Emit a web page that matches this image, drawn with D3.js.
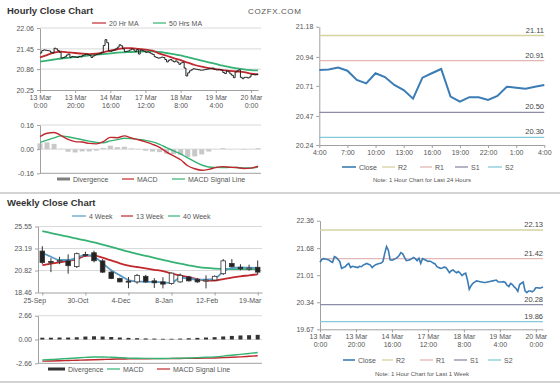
<!DOCTYPE html>
<html><head><meta charset="utf-8">
<script src="https://cdn.jsdelivr.net/npm/d3@7"></script>
<style>
body{margin:0;background:#fff;}
svg{display:block;font-family:"Liberation Sans",Arial,sans-serif;}
</style></head><body>
<svg id="c" width="560" height="386"></svg>
<script>
// ---------- DATA ----------
const hourClose = [
 21.33,21.40,21.42,21.41,21.40,21.39,21.35,21.33,21.47,21.45,21.40,21.35,
 21.18,21.20,21.22,21.27,21.30,21.20,21.23,21.22,21.21,21.20,21.23,21.22,
 21.26,21.28,21.30,21.28,21.26,21.20,21.24,21.27,21.29,21.30,21.31,21.35,
 21.55,21.72,21.63,21.39,21.38,21.40,21.42,21.45,21.50,21.57,21.54,21.45,
 21.37,21.38,21.39,21.42,21.45,21.42,21.37,21.43,21.30,21.42,21.40,21.38,
 21.35,21.36,21.34,21.31,21.29,21.22,21.20,21.18,21.19,21.21,21.20,21.14,
 21.07,21.12,21.14,21.10,21.07,21.10,21.06,21.00,21.04,21.06,20.89,20.66,
 20.75,20.81,20.84,20.87,20.86,20.85,20.84,20.83,20.83,20.84,20.85,20.86,20.87,20.88,20.89,20.85,
 20.84,20.84,20.85,20.83,20.76,20.73,20.81,20.78,20.72,20.68,20.61,20.78,20.81,20.84,20.62,20.58,
 20.62,20.62,20.60,20.63,20.70,20.70,20.69,20.70,20.72];
const hourXLabels = [["13 Mar","0:00"],["13 Mar","20:00"],["14 Mar","16:00"],["17 Mar","12:00"],["18 Mar","8:00"],["19 Mar","4:00"],["20 Mar","0:00"]];
const hourYTicks = [20.25,20.86,21.45,22.06];
// sampled every 4 hours (hour index 0,4,...,124)
const ma20 = [21.20,21.27,21.34,21.37,21.35,21.33,21.31,21.30,21.31,21.35,21.40,21.44,21.47,21.47,21.45,21.43,
              21.40,21.31,21.25,21.18,21.12,21.05,20.98,20.93,20.89,20.86,20.83,20.81,20.79,20.77,20.73,20.71];
const ma50 = [21.08,21.11,21.14,21.17,21.19,21.21,21.23,21.26,21.28,21.30,21.32,21.34,21.35,21.36,21.37,21.38,
              21.38,21.36,21.33,21.30,21.26,21.21,21.16,21.11,21.06,21.01,20.96,20.92,20.88,20.85,20.83,20.82];
const hMacd = [0.083,0.105,0.110,0.090,0.065,0.050,0.047,0.038,0.035,0.050,0.078,0.076,0.088,0.074,0.062,0.048,
               0.032,0.012,-0.020,-0.045,-0.070,-0.110,-0.130,-0.140,-0.134,-0.122,-0.116,-0.120,-0.122,-0.128,-0.126,-0.112];
const hSignal = [0.045,0.060,0.075,0.088,0.082,0.072,0.062,0.053,0.045,0.042,0.055,0.063,0.072,0.070,0.064,0.058,
                 0.048,0.032,0.010,-0.012,-0.032,-0.058,-0.082,-0.105,-0.118,-0.121,-0.122,-0.121,-0.122,-0.125,-0.125,-0.118];
const hDiv = [0.038,0.045,0.035,0.002,-0.017,-0.022,-0.015,-0.015,-0.010,0.008,0.023,0.013,0.016,0.004,-0.002,-0.010,
              -0.016,-0.020,-0.030,-0.033,-0.038,-0.052,-0.048,-0.035,-0.016,-0.001,0.006,0.001,0.000,-0.003,-0.001,0.006];
const hMacdTicks = [-0.16,0,0.16];
const hMacdLabels = ["-0.16","0.00","0.16"];

// last 24 hours
const dayClose = [20.836,20.84,20.855,20.83,20.757,20.73,20.81,20.78,20.717,20.677,20.608,20.775,20.81,
                  20.844,20.624,20.584,20.62,20.62,20.598,20.63,20.703,20.695,20.687,20.703,20.717];
const dayXLabels = ["4:00","7:00","10:00","13:00","16:00","19:00","22:00","1:00","4:00"];
const dayYTicks = [20.24,20.47,20.71,20.94,21.18];
const dayLevels = [21.11,20.91,20.50,20.30];   // R2,R1,S1,S2
const levelNames = ["R2","R1","S1","S2"];

// weekly
const weekLabels = ["25-Sep","30-Oct","4-Dec","8-Jan","12-Feb","19-Mar"];
const weekOpen  = [22.91,21.80,21.78,21.86,21.24,22.55,22.73,21.86,20.65,19.96,19.68,19.60,20.20,19.71,19.60,19.44,19.60,20.13,19.85,19.75,19.80,20.48,21.58,21.17,21.02,21.17];
const weekHigh  = [23.43,22.15,22.30,22.56,22.75,22.85,22.95,22.05,20.75,20.05,20.13,20.45,20.35,20.00,20.10,20.60,20.50,20.25,20.00,20.30,20.30,22.05,22.05,21.50,21.45,21.90];
const weekLow   = [21.52,20.65,21.50,20.48,21.10,22.30,21.70,20.55,19.90,19.55,18.92,19.40,19.50,18.95,18.90,19.30,19.50,19.65,19.50,18.90,19.70,20.35,21.15,20.85,20.80,20.40];
const weekClose = [21.69,21.68,21.90,21.34,22.63,22.45,21.87,20.65,19.96,19.60,19.60,20.30,19.60,19.50,19.36,20.54,20.30,19.71,19.60,19.80,20.20,21.86,21.24,21.00,21.08,20.65];
const wk4  = [22.73,22.30,21.95,21.95,22.20,22.50,22.30,21.60,20.85,20.30,19.80,19.65,19.60,19.60,19.55,19.50,20.05,19.95,19.85,19.85,19.95,20.70,21.10,21.15,21.12,21.10];
const wk13 = [21.40,21.55,21.69,21.85,22.04,22.39,22.45,22.20,21.90,21.60,21.35,21.20,21.05,20.90,20.75,20.50,20.30,20.10,19.90,19.75,19.75,19.90,20.05,20.20,20.30,20.42];
const wk40 = [25.05,24.85,24.65,24.45,24.25,24.05,23.85,23.60,23.35,23.10,22.85,22.62,22.40,22.18,21.97,21.75,21.55,21.38,21.22,21.10,21.03,21.00,20.98,20.98,20.98,20.97];
const weekYTicks = [18.46,20.82,23.19,25.55];
const wMacd   = [-2.28,-2.24,-2.18,-2.12,-2.06,-2.00,-1.95,-1.95,-1.98,-2.03,-2.08,-2.10,-2.11,-2.12,-2.12,-2.11,-2.09,-2.06,-2.03,-1.99,-1.94,-1.86,-1.76,-1.66,-1.56,-1.46];
const wSignal = [-2.42,-2.40,-2.38,-2.35,-2.32,-2.29,-2.26,-2.23,-2.20,-2.18,-2.17,-2.16,-2.15,-2.14,-2.14,-2.13,-2.12,-2.11,-2.10,-2.08,-2.06,-2.03,-1.99,-1.94,-1.88,-1.82];
const wDiv    = [0.20,0.20,0.22,0.22,0.25,0.33,0.36,0.33,0.28,0.22,0.18,0.15,0.12,0.10,0.08,0.08,0.10,0.14,0.18,0.22,0.26,0.34,0.40,0.45,0.48,0.52];
const wMacdTicks = [-2.66,0,2.66];
const wMacdLabels = ["-2.66","0.00","2.66"];

// last week hourly (same hourly closes)
const weekHourYTicks = [19.67,20.34,21.01,21.68,22.36];
const weekLevels = [22.13,21.42,20.28,19.86];

// ---------- STYLE ----------
const C = {red:"#c0282e", green:"#35b274", blue:"#5b9bc6", close:"#3b7cb4", grid:"#d9d9d9", axis:"#a0a0a0", text:"#555",
  lv:["#d6d3a0","#e2b7b5","#8c8ca6","#84cbd9"]};
const FONT = '"Liberation Sans",Arial,sans-serif';
const svg = d3.select("#c");

function styleAxis(g){
  g.attr("font-family",FONT).attr("font-size",7);
  g.select(".domain").attr("stroke",C.axis);
  g.selectAll(".tick line").attr("stroke",C.axis);
  g.selectAll(".tick text").attr("fill",C.text);
}
function yAxis(scale,x,vals,labels){
  const g = svg.append("g").attr("transform",`translate(${x},0)`)
    .call(d3.axisLeft(scale).tickValues(vals).tickSize(3).tickPadding(3).tickSizeOuter(0)
      .tickFormat((d,i)=>labels?labels[i]:d3.format(".2f")(d)));
  styleAxis(g); return g;
}
function xAxis(scale,y,vals,labels,two,dx){
  const g = svg.append("g").attr("transform",`translate(0,${y})`)
    .call(d3.axisBottom(scale).tickValues(vals).tickSize(3).tickSizeOuter(0).tickFormat(""));
  styleAxis(g);
  g.selectAll(".tick").each(function(d,i){
    const t = d3.select(this).append("text").attr("fill",C.text).attr("text-anchor","middle").attr("y",10);
    if(two){ t.append("tspan").attr("x",0).text(labels[i][0]); t.append("tspan").attr("x",0).attr("dy",8).text(labels[i][1]); }
    else t.attr("x",dx||0).text(labels[i]);
  });
  return g;
}
function grid(scale,vals,x1,x2){
  svg.append("g").selectAll("line").data(vals).join("line")
    .attr("x1",x1).attr("x2",x2).attr("y1",d=>scale(d)).attr("y2",d=>scale(d))
    .attr("stroke",C.grid).attr("stroke-width",1);
}
function text(x,y,s,opt={}){
  return svg.append("text").attr("x",x).attr("y",y).text(s).attr("font-family",FONT)
    .attr("font-size",opt.size||7).attr("fill",opt.fill||C.text).attr("font-weight",opt.weight||"normal")
    .attr("text-anchor",opt.anchor||"start").attr("letter-spacing",opt.ls||0);
}
function legLine(x1,x2,y,color,label,w){
  svg.append("line").attr("x1",x1).attr("x2",x2).attr("y1",y).attr("y2",y).attr("stroke",color).attr("stroke-width",w||1.2);
  text(x2+3,y+2.5,label);
}
function legBox(x1,x2,y,color,label){
  svg.append("rect").attr("x",x1).attr("y",y-1.5).attr("width",x2-x1).attr("height",3).attr("fill",color);
  text(x2+3,y+2.5,label);
}

// ---------- FRAME ----------
text(7,14,"Hourly Close Chart",{size:9.5,weight:"bold",fill:"#333"});
text(248,14,"COZFX.COM",{size:8,fill:"#555",ls:0.6});
text(7,206,"Weekly Close Chart",{size:9.5,weight:"bold",fill:"#333"});
svg.append("line").attr("x1",0).attr("x2",560).attr("y1",193).attr("y2",193).attr("stroke","#c4c4c4").attr("stroke-width",1.5);
svg.append("line").attr("x1",0).attr("x2",560).attr("y1",382).attr("y2",382).attr("stroke","#c4c4c4").attr("stroke-width",1.5);

// ---------- HOURLY (left) ----------
const hIdx = d3.range(hourClose.length);
const hSample = d3.range(0,125,4);
const hx = d3.scaleLinear().domain([0,124]).range([40,258]);
const hy = d3.scaleLinear().domain([20.25,22.06]).range([90,28]);
grid(hy,hourYTicks.slice(1),40,261);
yAxis(hy,40,hourYTicks);
xAxis(hx,90,d3.range(0,121,20),hourXLabels,true);
svg.append("path").datum(ma50).attr("fill","none").attr("stroke",C.green).attr("stroke-width",1.8)
  .attr("d",d3.line().x((d,i)=>hx(hSample[i])).y(d=>hy(d)).curve(d3.curveMonotoneX));
svg.append("path").datum(ma20).attr("fill","none").attr("stroke",C.red).attr("stroke-width",1.8)
  .attr("d",d3.line().x((d,i)=>hx(hSample[i])).y(d=>hy(d)).curve(d3.curveMonotoneX));
svg.append("path").datum(hourClose).attr("fill","none").attr("stroke","#222").attr("stroke-width",1)
  .attr("d",d3.line().x((d,i)=>hx(hIdx[i])).y(d=>hy(d)).curve(d3.curveStepAfter));
legLine(92,106,23,C.red,"20 Hr MA");
legLine(153,166,23,C.green,"50 Hrs MA");

// hourly MACD
const my = d3.scaleLinear().domain([-0.16,0.16]).range([173.3,125]);
grid(my,[0,0.16],40,261);
svg.append("g").selectAll("rect").data(hDiv).join("rect")
  .attr("x",(d,i)=>hx(hSample[i])-2.5).attr("width",5)
  .attr("y",d=>Math.min(my(0),my(d))).attr("height",d=>Math.abs(my(d)-my(0)))
  .attr("fill","#c8c8c8");
yAxis(my,40,hMacdTicks,hMacdLabels);
svg.append("line").attr("x1",40).attr("x2",261).attr("y1",173.3).attr("y2",173.3).attr("stroke",C.axis);
svg.append("path").datum(hSignal).attr("fill","none").attr("stroke",C.green).attr("stroke-width",1.4)
  .attr("d",d3.line().x((d,i)=>hx(hSample[i])).y(d=>my(d)).curve(d3.curveMonotoneX));
svg.append("path").datum(hMacd).attr("fill","none").attr("stroke",C.red).attr("stroke-width",1.4)
  .attr("d",d3.line().x((d,i)=>hx(hSample[i])).y(d=>my(d)).curve(d3.curveMonotoneX));
legBox(57,70,179,"#808080","Divergence");
legLine(122,134,179,C.red,"MACD");
legLine(172,185,179,C.green,"MACD Signal Line");

// ---------- LAST 24 HOURS (top right) ----------
const rx = d3.scaleLinear().domain([0,24]).range([319.3,544.3]);
const ry = d3.scaleLinear().domain([20.24,21.18]).range([145,26.7]);
yAxis(ry,319.3,dayYTicks);
xAxis(rx,145,d3.range(0,25,3),dayXLabels,false);
dayLevels.forEach((v,i)=>{
  svg.append("line").attr("x1",319.3).attr("x2",544.3).attr("y1",ry(v)).attr("y2",ry(v)).attr("stroke",C.lv[i]).attr("stroke-width",1.3);
  text(544,ry(v)-3,d3.format(".2f")(v),{anchor:"end",fill:"#444",size:7.5});
});
svg.append("path").datum(dayClose).attr("fill","none").attr("stroke",C.close).attr("stroke-width",2)
  .attr("d",d3.line().x((d,i)=>rx(i)).y(d=>ry(d)));
legLine(342,356,167,C.close,"Close",1.6);
[[382,395],[420,432],[455,468],[488,502]].forEach((p,i)=>legLine(p[0],p[1],167,C.lv[i],levelNames[i],1.3));
text(422,182,"Note: 1 Hour Chart for Last 24 Hours",{anchor:"middle",size:6});

// ---------- WEEKLY (left) ----------
const wIdx = d3.range(weekClose.length);
const wx = d3.scalePoint().domain(wIdx).range([38,262]).padding(0.5);
const wy = d3.scaleLinear().domain([18.46,25.55]).range([292.5,226.5]);
grid(wy,weekYTicks.slice(1),38,262);
yAxis(wy,38,weekYTicks,weekYTicks.map(d=>d3.format(".2f")(d)));
xAxis(wx,292.5,d3.range(0,26,5),weekLabels,false,-8);
[[wk40,C.green],[wk13,C.red],[wk4,C.blue]].forEach(([arr,col])=>{
  svg.append("path").datum(arr).attr("fill","none").attr("stroke",col).attr("stroke-width",1.8)
    .attr("d",d3.line().x((d,i)=>wx(wIdx[i])).y(d=>wy(d)).curve(d3.curveMonotoneX));
});
const cg = svg.append("g");
wIdx.forEach(i=>{
  const x = wx(i), o = weekOpen[i], c = weekClose[i];
  cg.append("line").attr("x1",x).attr("x2",x).attr("y1",wy(weekHigh[i])).attr("y2",wy(weekLow[i])).attr("stroke","#333").attr("stroke-width",1);
  const top = wy(Math.max(o,c)), bot = wy(Math.min(o,c));
  cg.append("rect").attr("x",x-2.3).attr("width",4.6).attr("y",top).attr("height",Math.max(1,bot-top))
    .attr("fill",c>=o?"#fff":"#222").attr("stroke","#333").attr("stroke-width",0.8);
});
legLine(72,86,216,C.blue,"4 Week");
legLine(121,133,216,C.red,"13 Week");
legLine(168,180,216,C.green,"40 Week");

// weekly MACD
const wmy = d3.scaleLinear().domain([-2.66,2.66]).range([363.3,315.7]);
grid(wmy,[0,2.66],38,262);
yAxis(wmy,38,wMacdTicks,wMacdLabels);
svg.append("line").attr("x1",38).attr("x2",262).attr("y1",363.3).attr("y2",363.3).attr("stroke",C.axis);
svg.append("g").selectAll("rect").data(wDiv).join("rect")
  .attr("x",(d,i)=>wx(wIdx[i])-2).attr("width",4)
  .attr("y",d=>Math.min(wmy(0),wmy(d))).attr("height",d=>Math.abs(wmy(d)-wmy(0)))
  .attr("fill","#333");
svg.append("path").datum(wSignal).attr("fill","none").attr("stroke",C.red).attr("stroke-width",1.4)
  .attr("d",d3.line().x((d,i)=>wx(wIdx[i])).y(d=>wmy(d)).curve(d3.curveMonotoneX));
svg.append("path").datum(wMacd).attr("fill","none").attr("stroke",C.green).attr("stroke-width",1.4)
  .attr("d",d3.line().x((d,i)=>wx(wIdx[i])).y(d=>wmy(d)).curve(d3.curveMonotoneX));
legBox(48,65,369,"#333","Divergence");
legLine(107,120,369,C.green,"MACD");
legLine(157,170,369,C.red,"MACD Signal Line");

// ---------- LAST WEEK (bottom right) ----------
const bx = d3.scaleLinear().domain([0,124]).range([320,543]);
const by = d3.scaleLinear().domain([19.67,22.36]).range([329.3,220.7]);
yAxis(by,320,weekHourYTicks);
xAxis(bx,329.3,d3.range(0,121,20),hourXLabels,true);
weekLevels.forEach((v,i)=>{
  svg.append("line").attr("x1",320).attr("x2",543).attr("y1",by(v)).attr("y2",by(v)).attr("stroke",C.lv[i]).attr("stroke-width",1.3);
  text(543,by(v)-3,d3.format(".2f")(v),{anchor:"end",fill:"#444",size:7.5});
});
svg.append("path").datum(hourClose).attr("fill","none").attr("stroke",C.close).attr("stroke-width",1.6)
  .attr("d",d3.line().x((d,i)=>bx(hIdx[i])).y(d=>by(d)));
legLine(343,355,360,C.close,"Close",1.6);
[[382,393],[420,433],[454,467],[488,501]].forEach((p,i)=>legLine(p[0],p[1],360,C.lv[i],levelNames[i],1.3));
text(422,376,"Note: 1 Hour Chart for Last 1 Week",{anchor:"middle",size:6});
</script>
</body></html>
